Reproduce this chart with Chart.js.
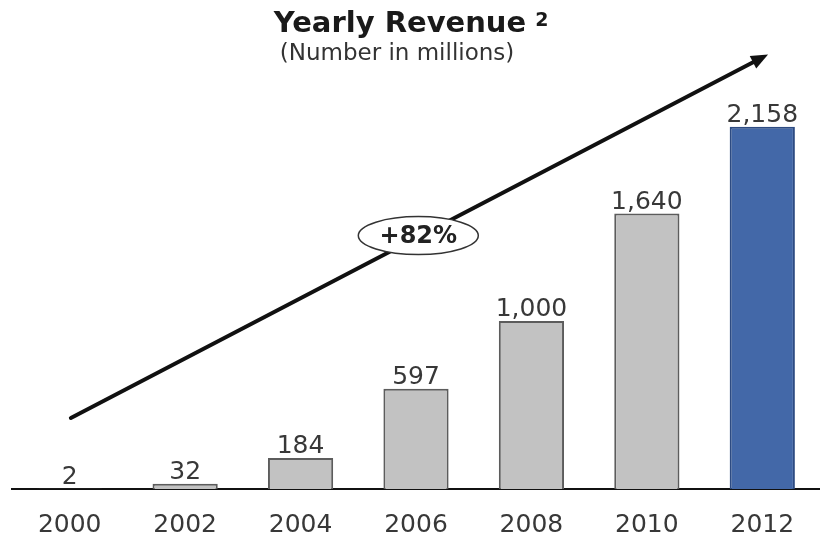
<!DOCTYPE html>
<html>
<head>
<meta charset="utf-8">
<script src="https://cdn.jsdelivr.net/npm/chart.js@4"></script>
<style>
  html, body { margin: 0; padding: 0; background: #fff; }
  #wrap { width: 820px; height: 544px; position: relative; }
</style>
</head>
<body>
<div id="wrap"><canvas id="revenueChart"></canvas></div>
<script>
// --- data ---
const years = ['2000', '2002', '2004', '2006', '2008', '2010', '2012'];
const revenue = [2, 32, 184, 597, 1000, 1640, 2158];
const highlightYear = '2012';

const chartTitle = 'Yearly Revenue';
const titleNote = '2';
const chartSubtitle = '(Number in millions)';

// trend arrow, in (category index, value) units
const arrowFrom = [0.01, 423];
const arrowTo = [6.05, 2588];
const growthLabel = '+82%';
const growthAt = [3.02, 1509];

const COLORS = {
  bar: '#c2c2c2',
  barBorder: '#5c5c5c',
  highlight: '#4368a8',
  highlightBorder: '#2d4b82',
  text: '#383838',
};

const FONT = 'DejaVu Sans, sans-serif';

// title block drawn by hand so it can sit where the original has it
const header = {
  id: 'header',
  afterDraw(chart) {
    const ctx = chart.ctx;
    ctx.save();
    ctx.fillStyle = '#1a1a1a';
    ctx.textBaseline = 'alphabetic';
    ctx.textAlign = 'left';
    ctx.font = 'bold 29px ' + FONT;
    const w = ctx.measureText(chartTitle).width;
    const tx = 400 - w / 2;
    ctx.fillText(chartTitle, tx, 32);
    ctx.font = 'bold 19px ' + FONT;
    ctx.fillText(titleNote, tx + w + 9, 26);

    ctx.fillStyle = '#333';
    ctx.font = '23px ' + FONT;
    ctx.textAlign = 'center';
    ctx.fillText(chartSubtitle, 397, 60);
    ctx.restore();
  }
};

// value labels above bars
const valueLabels = {
  id: 'valueLabels',
  afterDatasetsDraw(chart) {
    const ctx = chart.ctx;
    const meta = chart.getDatasetMeta(0);
    ctx.save();
    ctx.font = '25px ' + FONT;
    ctx.fillStyle = COLORS.text;
    ctx.textAlign = 'center';
    ctx.textBaseline = 'alphabetic';
    meta.data.forEach((bar, i) => {
      ctx.fillText(revenue[i].toLocaleString('en-US'), bar.x, bar.y - 5);
    });
    ctx.restore();
  }
};

// growth arrow + oval badge
const trendArrow = {
  id: 'trendArrow',
  afterDatasetsDraw(chart) {
    const { ctx, scales: { x, y } } = chart;
    const x1 = x.getPixelForValue(arrowFrom[0]);
    const y1 = y.getPixelForValue(arrowFrom[1]);
    const x2 = x.getPixelForValue(arrowTo[0]);
    const y2 = y.getPixelForValue(arrowTo[1]);
    const ang = Math.atan2(y2 - y1, x2 - x1);
    const head = 17;

    ctx.save();
    ctx.strokeStyle = '#111';
    ctx.fillStyle = '#111';
    ctx.lineWidth = 4;
    ctx.lineCap = 'round';
    ctx.beginPath();
    ctx.moveTo(x1, y1);
    ctx.lineTo(x2 - Math.cos(ang) * head * 0.8, y2 - Math.sin(ang) * head * 0.8);
    ctx.stroke();

    ctx.beginPath();
    ctx.moveTo(x2, y2);
    ctx.lineTo(x2 - head * Math.cos(ang) + 7 * Math.sin(ang), y2 - head * Math.sin(ang) - 7 * Math.cos(ang));
    ctx.lineTo(x2 - head * Math.cos(ang) - 7 * Math.sin(ang), y2 - head * Math.sin(ang) + 7 * Math.cos(ang));
    ctx.closePath();
    ctx.fill();

    // badge
    const bx = x.getPixelForValue(growthAt[0]);
    const by = y.getPixelForValue(growthAt[1]);
    ctx.beginPath();
    ctx.ellipse(bx, by, 60, 19, 0, 0, Math.PI * 2);
    ctx.fillStyle = '#fff';
    ctx.fill();
    ctx.lineWidth = 1.5;
    ctx.strokeStyle = '#333';
    ctx.stroke();
    ctx.fillStyle = '#222';
    ctx.font = 'bold 24px ' + FONT;
    ctx.textAlign = 'center';
    ctx.textBaseline = 'middle';
    ctx.fillText(growthLabel, bx, by + 1);
    ctx.restore();
  }
};

const ctx = document.getElementById('revenueChart').getContext('2d');
new Chart(ctx, {
  type: 'bar',
  data: {
    labels: years,
    datasets: [{
      data: revenue,
      backgroundColor: years.map(y => y === highlightYear ? COLORS.highlight : COLORS.bar),
      borderColor: years.map(y => y === highlightYear ? COLORS.highlightBorder : COLORS.barBorder),
      borderWidth: 2,
      borderSkipped: 'bottom',
      categoryPercentage: 1,
      barPercentage: 0.565,
    }],
  },
  options: {
    responsive: true,
    maintainAspectRatio: false,
    animation: false,
    layout: { padding: { left: 12, right: 0, top: 86, bottom: 0 } },
    plugins: {
      legend: { display: false },
      tooltip: { enabled: false },
    },
    scales: {
      y: {
        display: false,
        min: 0,
        max: 2400,
      },
      x: {
        grid: { display: false, drawTicks: false },
        border: { display: true, color: '#111', width: 2 },
        ticks: {
          color: COLORS.text,
          font: { family: FONT, size: 25 },
          padding: 21,
        },
        afterFit(scale) { scale.height = 55; },
      },
    },
  },
  plugins: [header, valueLabels, trendArrow],
});
</script>
</body>
</html>
